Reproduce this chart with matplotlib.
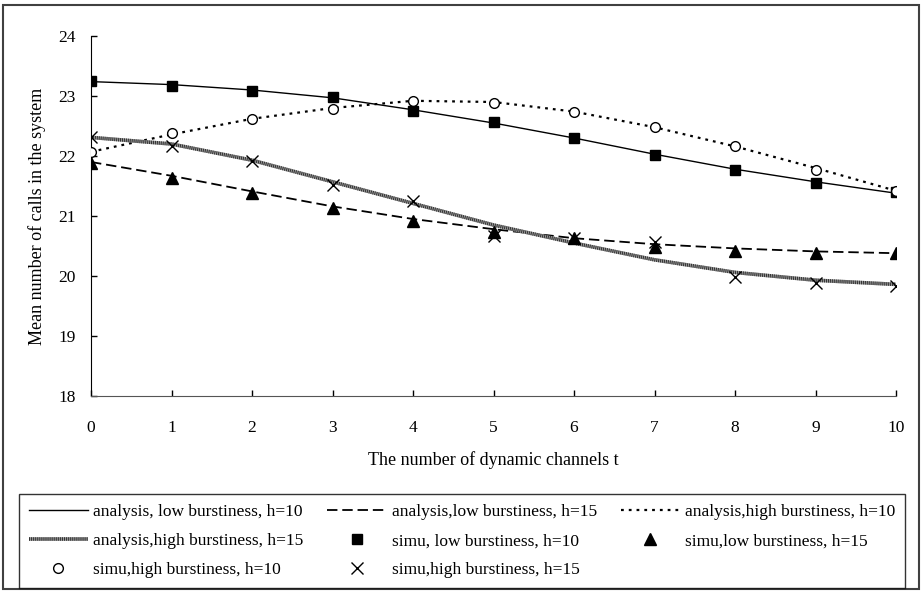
import matplotlib
matplotlib.use("Agg")
import matplotlib.pyplot as plt
from matplotlib.patches import Rectangle

plt.rcParams['font.family'] = ['Liberation Serif', 'DejaVu Serif']
plt.rcParams['lines.scale_dashes'] = False

# dynamic channels t
t = [0, 1, 2, 3, 4, 5, 6, 7, 8, 9, 10]

# analytical results
ana_low_10 = [23.24, 23.19, 23.10, 22.97, 22.77, 22.55, 22.30, 22.03, 21.78, 21.57, 21.38]
ana_low_15 = [21.90, 21.67, 21.41, 21.16, 20.95, 20.78, 20.63, 20.53, 20.46, 20.41, 20.38]
ana_high_10 = [22.07, 22.36, 22.62, 22.80, 22.92, 22.90, 22.74, 22.48, 22.16, 21.80, 21.42]
ana_high_15 = [22.31, 22.20, 21.93, 21.57, 21.21, 20.85, 20.55, 20.27, 20.06, 19.93, 19.86]

# simulation results
simu_low_10 = [23.25, 23.17, 23.09, 22.98, 22.75, 22.56, 22.30, 22.02, 21.77, 21.55, 21.40]
simu_low_15 = [21.88, 21.64, 21.39, 21.13, 20.92, 20.73, 20.63, 20.49, 20.42, 20.39, 20.38]
simu_high_10 = [22.07, 22.38, 22.62, 22.79, 22.91, 22.88, 22.73, 22.48, 22.16, 21.77, 21.42]
simu_high_15 = [22.31, 22.16, 21.91, 21.52, 21.25, 20.66, 20.63, 20.56, 19.99, 19.89, 19.83]

fig = plt.figure(figsize=(9.21, 5.91), dpi=100)
ax = fig.add_axes([91 / 921, 1 - 396 / 591, 805 / 921, 360 / 591])

# analysis curves
l1, = ax.plot(t, ana_low_10, color='black', lw=1.0)
l2, = ax.plot(t, ana_low_15, color='black', lw=1.3, dashes=(7.5, 3.5))
l3, = ax.plot(t, ana_high_10, color='black', lw=1.6, dashes=(2.0, 3.6))
l4a, = ax.plot(t, ana_high_15, color='#9a9a9a', lw=2.6, solid_capstyle='butt')
l4b, = ax.plot(t, ana_high_15, color='#303030', lw=2.6, dashes=(0.7, 0.7))

# simulation points
s1, = ax.plot(t, simu_low_10, ls='none', marker='s', ms=7.5, color='black', zorder=4)
s2, = ax.plot(t, simu_low_15, ls='none', marker='^', ms=8, color='black', zorder=4)
s3, = ax.plot(t, simu_high_10, ls='none', marker='o', ms=7, mfc='white', mec='black',
              mew=1.0, zorder=4)
s4, = ax.plot(t, simu_high_15, ls='none', marker='x', ms=8, color='black', mew=1.0, zorder=4)

ax.set_xlim(0, 10)
ax.set_ylim(18, 24)
ax.set_xticks(t)
ax.set_yticks([18, 19, 20, 21, 22, 23, 24])
ax.spines['top'].set_visible(False)
ax.spines['right'].set_visible(False)
ax.spines['left'].set_color('black')
ax.spines['bottom'].set_color('#555555')
ax.tick_params(axis='both', direction='in', length=4, width=1, labelsize=12.5)
ax.tick_params(axis='y', pad=11)
ax.tick_params(axis='x', pad=17, colors='black')

ax.set_xlabel('The number of dynamic channels t', fontsize=13, labelpad=11)
ax.set_ylabel('Mean number of calls in the system', fontsize=13, labelpad=9)

# legend filled row by row
handles = [l1, l4a, s3, l2, s1, s4, l3, s2]
labels = ['analysis, low burstiness, h=10', 'analysis,high burstiness, h=15',
          'simu,high burstiness, h=10', 'analysis,low burstiness, h=15',
          'simu, low burstiness, h=10', 'simu,high burstiness, h=15',
          'analysis,high burstiness, h=10', 'simu,low burstiness, h=15']
handles[1] = (l4a, l4b)
leg = fig.legend(handles, labels, ncol=3, loc='lower left',
                 bbox_to_anchor=(19 / 921, 3 / 591, 886 / 921, 92 / 591),
                 mode='expand', fontsize=12.5, frameon=True, fancybox=False,
                 edgecolor='black', handlelength=3.4, handletextpad=0.3,
                 labelspacing=0.75, borderaxespad=0, borderpad=0.55)
leg.get_frame().set_linewidth(1.0)

# outer chart border
fig.patches.append(Rectangle((3 / 921, 2 / 591), 916 / 921, 584 / 591,
                             transform=fig.transFigure, fill=False,
                             edgecolor='#404040', lw=1.5))

fig.savefig('out.png', dpi=100)
